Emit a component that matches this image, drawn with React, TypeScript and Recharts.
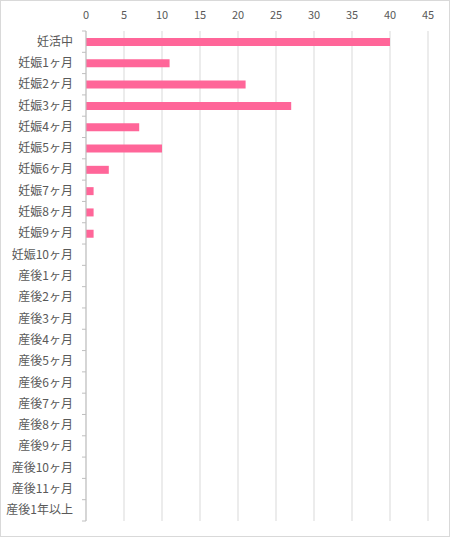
import React from "react";
import { BarChart, Bar, XAxis, YAxis, CartesianGrid } from "recharts";

const categories = [
  "妊活中",
  "妊娠1ヶ月",
  "妊娠2ヶ月",
  "妊娠3ヶ月",
  "妊娠4ヶ月",
  "妊娠5ヶ月",
  "妊娠6ヶ月",
  "妊娠7ヶ月",
  "妊娠8ヶ月",
  "妊娠9ヶ月",
  "妊娠10ヶ月",
  "産後1ヶ月",
  "産後2ヶ月",
  "産後3ヶ月",
  "産後4ヶ月",
  "産後5ヶ月",
  "産後6ヶ月",
  "産後7ヶ月",
  "産後8ヶ月",
  "産後9ヶ月",
  "産後10ヶ月",
  "産後11ヶ月",
  "産後1年以上",
];
const counts = [40, 11, 21, 27, 7, 10, 3, 1, 1, 1, 0, 0, 0, 0, 0, 0, 0, 0, 0, 0, 0, 0, 0];
const xTicks = [0, 5, 10, 15, 20, 25, 30, 35, 40, 45];

const data = categories.map((name, i) => ({ name, value: counts[i] }));

const FONT = "'Noto Sans CJK JP', 'Noto Sans', sans-serif";
const TEXT = "#595959";
const AXIS = "#bfbfbf";

const W = 450;
const H = 537;
const TOP = 31;
const BOTTOM = 16;
const BAND = (H - TOP - BOTTOM) / categories.length;

function CategoryTick(props: any) {
  const { x, y, payload, index } = props;
  const last = index === categories.length - 1;
  return (
    <g>
      <text x={x - 13} y={y} dy={4} textAnchor="end" fontSize={12} fill={TEXT} fontFamily={FONT}>
        {payload.value}
      </text>
      <line x1={x - 4} x2={x} y1={y - BAND / 2} y2={y - BAND / 2} stroke={AXIS} />
      {last && <line x1={x - 4} x2={x} y1={y + BAND / 2} y2={y + BAND / 2} stroke={AXIS} />}
    </g>
  );
}

export default function App() {
  return (
    <div style={{ position: "absolute", left: 0, top: 0, width: W, height: H }}>
      <div style={{ position: "absolute", inset: 0, border: "1px solid #d9d9d9", boxSizing: "border-box" }} />
      <BarChart
        width={W}
        height={H}
        data={data}
        layout="vertical"
        margin={{ top: 1, right: 22, bottom: BOTTOM, left: 0 }}
        barCategoryGap={0}
      >
        <CartesianGrid horizontal={false} stroke="#d9d9d9" />
        <XAxis
          type="number"
          orientation="top"
          domain={[0, 45]}
          ticks={xTicks}
          height={30}
          axisLine={false}
          tickLine={false}
          tickSize={0}
          tickMargin={12}
          tick={{ fontSize: 11, fill: TEXT, fontFamily: FONT }}
        />
        <YAxis
          type="category"
          dataKey="name"
          width={86}
          axisLine={{ stroke: AXIS }}
          tickLine={false}
          tickSize={0}
          tickMargin={0}
          interval={0}
          tick={<CategoryTick />}
        />
        <Bar dataKey="value" fill="#ff6699" barSize={8} isAnimationActive={false} />
      </BarChart>
    </div>
  );
}
